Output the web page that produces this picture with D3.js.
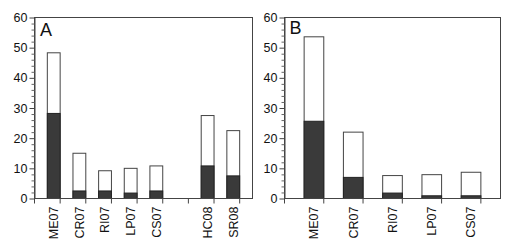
<!DOCTYPE html>
<html><head><meta charset="utf-8">
<script src="https://cdnjs.cloudflare.com/ajax/libs/d3/7.8.5/d3.min.js"></script>
<style>body{margin:0;background:#fff}svg{display:block;font-family:"Liberation Sans",Arial,sans-serif}</style>
</head><body><svg id="c" width="520" height="249"></svg>
<script>
const catsA = ["ME07","CR07","RI07","LP07","CS07","","HC08","SR08"];
const darkA = [28.2,2.5,2.5,1.8,2.5,null,10.8,7.5];
const totalA = [48.3,15.0,9.2,10.0,10.8,null,27.5,22.5];
const catsB = ["ME07","CR07","RI07","LP07","CS07"];
const darkB = [25.6,7.0,1.8,0.9,0.9];
const totalB = [53.6,22.0,7.6,7.9,8.7];
const yTicks = [0,10,20,30,40,50,60];

const svg = d3.select("#c");
function panel(label, labelSize, labelX, labelY, cats, dark, total, left, right, top, bottom){
  const g = svg.append("g");
  const x = d3.scaleBand().domain(cats).range([left,right]).padding(0.5);
  const y = d3.scaleLinear().domain([0,60]).range([bottom,top]);
  cats.forEach((c,i)=>{
    if(total[i]==null) return;
    g.append("rect").attr("x",x(c)).attr("width",x.bandwidth())
      .attr("y",y(total[i])).attr("height",y(0)-y(total[i]))
      .attr("fill","#fff").attr("stroke","#444").attr("stroke-width",1);
    g.append("rect").attr("x",x(c)).attr("width",x.bandwidth())
      .attr("y",y(dark[i])).attr("height",y(0)-y(dark[i]))
      .attr("fill","#3a3a3a").attr("stroke","#222").attr("stroke-width",1);
  });
  g.append("rect").attr("x",left).attr("y",top).attr("width",right-left).attr("height",bottom-top)
    .attr("fill","none").attr("stroke","#444").attr("stroke-width",1);
  const ya = g.append("g").attr("transform",`translate(${left},0)`)
    .call(d3.axisLeft(y).tickValues(yTicks).tickSize(5).tickPadding(2).tickSizeOuter(0));
  ya.select(".domain").attr("stroke","#444");
  ya.selectAll(".tick line").attr("stroke","#444");
  ya.selectAll("text").attr("font-size",12.5).attr("fill","#111").attr("font-family","Liberation Sans, Arial, sans-serif");
  const minor = d3.range(0,61,2).filter(v=>v%10!==0);
  g.append("g").attr("transform",`translate(${left},0)`)
    .call(d3.axisLeft(y).tickValues(minor).tickSize(3).tickFormat("").tickSizeOuter(0))
    .call(s=>{s.select(".domain").remove(); s.selectAll("line").attr("stroke","#666");});
  const xa = g.append("g").attr("transform",`translate(0,${bottom})`)
    .call(d3.axisBottom(x).tickSize(0).tickSizeOuter(0));
  xa.select(".domain").remove();
  xa.selectAll("text").attr("font-size",12.5).attr("fill","#111")
    .attr("font-family","Liberation Sans, Arial, sans-serif")
    .attr("transform","rotate(-90)").attr("text-anchor","end")
    .attr("x",-8).attr("y",0).attr("dy","0.35em");
  const step = x.step();
  d3.range(cats.length+1).forEach(i=>{
    const xx = left + i*step;
    g.append("line").attr("x1",xx).attr("x2",xx).attr("y1",bottom).attr("y2",bottom+5).attr("stroke","#444");
  });
  g.append("text").attr("x",labelX).attr("y",labelY).attr("font-size",labelSize).attr("fill","#111").text(label);
}
panel("A", 18, 40, 36, catsA, darkA, totalA, 34.5, 252.5, 17.5, 198.5);
panel("B", 18, 289.5, 34, catsB, darkB, totalB, 284.5, 500.5, 17.5, 198.5);
</script></body></html>
